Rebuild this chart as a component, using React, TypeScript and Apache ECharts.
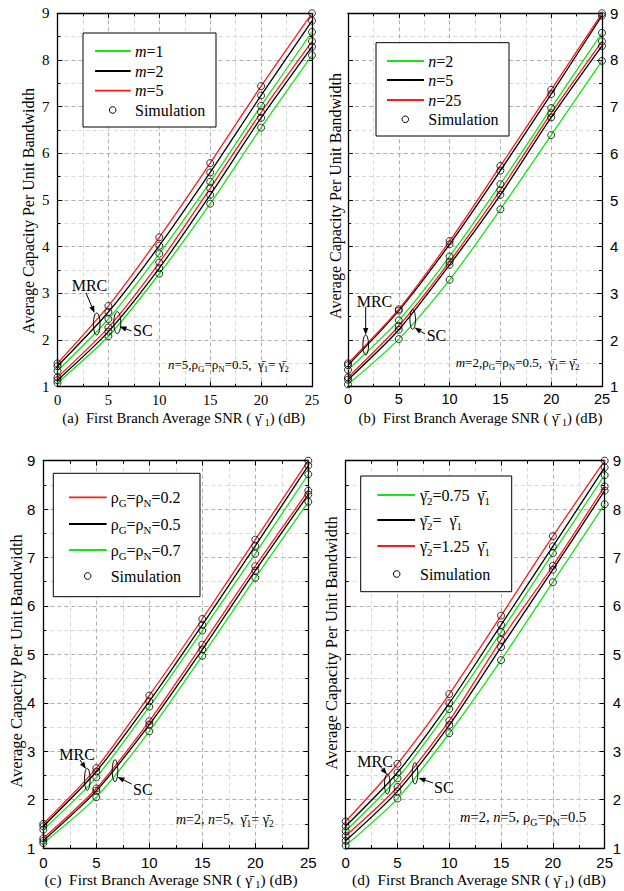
import React, { useEffect, useRef } from "react";
import * as echarts from "echarts";

const SERIF = "Liberation Serif";
const SANS = "Liberation Sans";
const GREEN = "#14e614";
const BLACK = "#000000";
const RED = "#ff1a1a";

// SNR of the first branch (dB) where values are read / simulated
const snrDb = [0, 5, 10, 15, 20, 25];

// (a) m = 1, 2, 5
const aMrcM1 = [1.34, 2.45, 3.85, 5.39, 7.02, 8.6];
const aMrcM2 = [1.44, 2.6, 4.02, 5.59, 7.24, 8.84];
const aMrcM5 = [1.5, 2.73, 4.2, 5.79, 7.44, 9.0];
const aScM1 = [1.08, 2.08, 3.42, 4.92, 6.55, 8.1];
const aScM2 = [1.14, 2.18, 3.54, 5.11, 6.76, 8.28];
const aScM5 = [1.2, 2.27, 3.66, 5.25, 6.88, 8.4];

// (b) n = 2, 5, 25
const bMrcN2 = [1.36, 2.42, 3.79, 5.34, 6.97, 8.58];
const bMrcN5 = [1.46, 2.63, 4.05, 5.63, 7.27, 8.95];
const bMrcN25 = [1.5, 2.66, 4.12, 5.73, 7.36, 9.0];
const bScN2 = [1.05, 2.02, 3.29, 4.8, 6.39, 7.98];
const bScN5 = [1.15, 2.22, 3.61, 5.11, 6.77, 8.3];
const bScN25 = [1.2, 2.3, 3.68, 5.21, 6.86, 8.4];

// (c) rho = 0.2, 0.5, 0.7
const cMrc02 = [1.5, 2.65, 4.15, 5.73, 7.37, 9.0];
const cMrc05 = [1.45, 2.58, 4.03, 5.61, 7.24, 8.9];
const cMrc07 = [1.38, 2.46, 3.92, 5.49, 7.08, 8.72];
const cSc02 = [1.2, 2.23, 3.62, 5.2, 6.82, 8.38];
const cSc05 = [1.15, 2.18, 3.55, 5.1, 6.73, 8.3];
const cSc07 = [1.1, 2.05, 3.41, 4.97, 6.58, 8.15];

// (d) gamma2 = 0.75, 1, 1.25 gamma1
const dMrc075 = [1.35, 2.44, 3.87, 5.46, 7.09, 8.7];
const dMrc100 = [1.45, 2.56, 3.99, 5.61, 7.23, 8.86];
const dMrc125 = [1.55, 2.74, 4.18, 5.8, 7.44, 9.0];
const dSc075 = [1.05, 2.02, 3.37, 4.88, 6.49, 8.1];
const dSc100 = [1.15, 2.17, 3.54, 5.15, 6.75, 8.38];
const dSc125 = [1.25, 2.26, 3.63, 5.3, 6.83, 8.47];

// Texts: {n|normal} {i|italic} {s|subscript}
const legendA = ["{i|m}{n|=1}", "{i|m}{n|=2}", "{i|m}{n|=5}", "{n|Simulation}"];
const legendB = ["{i|n}{n|=2}", "{i|n}{n|=5}", "{i|n}{n|=25}", "{n|Simulation}"];
const legendC = [
  "{n|ρ}{s|G}{n|=ρ}{s|N}{n|=0.2}",
  "{n|ρ}{s|G}{n|=ρ}{s|N}{n|=0.5}",
  "{n|ρ}{s|G}{n|=ρ}{s|N}{n|=0.7}",
  "{n|Simulation}",
];
const legendD = [
  "{n|γ\u0304}{s|2}{n|=0.75  γ\u0304}{s|1}",
  "{n|γ\u0304}{s|2}{n|=  γ\u0304}{s|1}",
  "{n|γ\u0304}{s|2}{n|=1.25  γ\u0304}{s|1}",
  "{n|Simulation}",
];

const xTitleA = "{n|(a)  First Branch Average SNR ( γ\u0304}{s| 1}{n|) (dB)}";
const xTitleB = "{n|(b)  First Branch Average SNR ( γ\u0304}{s| 1}{n|) (dB)}";
const xTitleC = "{n|(c)  First Branch Average SNR ( γ\u0304}{s| 1}{n|) (dB)}";
const xTitleD = "{n|(d)  First Branch Average SNR ( γ\u0304}{s| 1}{n|) (dB)}";
const yTitle = "Average Capacity Per Unit Bandwidth";

const paramA = "{i|n}{n|=5,ρ}{s|G}{n|=ρ}{s|N}{n|=0.5,  γ\u0304}{s|1}{n|= γ\u0304}{s|2}";
const paramB = "{i|m}{n|=2,ρ}{s|G}{n|=ρ}{s|N}{n|=0.5,  γ\u0304}{s|1}{n|= γ\u0304}{s|2}";
const paramC = "{i|m}{n|=2, }{i|n}{n|=5,  γ\u0304}{s|1}{n|= γ\u0304}{s|2}";
const paramD = "{i|m}{n|=2, }{i|n}{n|=5, ρ}{s|G}{n|=ρ}{s|N}{n|=0.5}";

let measureCtx: CanvasRenderingContext2D | null = null;
function measure(text: string, fs: number, italic: boolean) {
  if (!measureCtx) measureCtx = document.createElement("canvas").getContext("2d");
  if (!measureCtx) return text.length * fs * 0.5;
  measureCtx.font = `${italic ? "italic " : ""}${fs}px "${SERIF}"`;
  return measureCtx.measureText(text).width;
}

// Lays out a mixed text (normal / italic / subscript) as separate text elements
function rt(x: number, y: number, str: string, fs: number, align = "left", subDrop = 0.36) {
  const parts: { k: string; t: string }[] = [];
  const re = /\{(\w)\|([^}]*)\}/g;
  let m: RegExpExecArray | null;
  while ((m = re.exec(str)) !== null) parts.push({ k: m[1], t: m[2] });
  const sizes = parts.map((p) => (p.k === "s" ? fs * 0.68 : fs));
  const widths = parts.map((p, i) => measure(p.t, sizes[i], p.k === "i"));
  const total = widths.reduce((a, b) => a + b, 0);
  let cx = align === "center" ? x - total / 2 : x;
  return parts.map((p, i) => {
    const el = {
      type: "text",
      x: cx,
      y: p.k === "s" ? y + subDrop * fs : y,
      z: 200,
      style: {
        text: p.t,
        fontSize: sizes[i],
        fontFamily: SERIF,
        fontStyle: p.k === "i" ? "italic" : "normal",
        fill: "#000",
        align: "left",
        textAlign: "left",
        verticalAlign: "middle",
        textVerticalAlign: "middle",
      },
    };
    cx += widths[i];
    return el;
  });
}

function vtitle(x: number, y: number, fs: number) {
  return {
    type: "text",
    x,
    y,
    rotation: Math.PI / 2,
    z: 200,
    style: {
      text: yTitle,
      fontSize: fs,
      fontFamily: SERIF,
      fill: "#000",
      align: "center",
      textAlign: "center",
      verticalAlign: "middle",
      textVerticalAlign: "middle",
    },
  };
}

function arrow(x1: number, y1: number, x2: number, y2: number) {
  const a = Math.atan2(y2 - y1, x2 - x1);
  const L = 7;
  const W = 2.6;
  const c = Math.cos(a);
  const s = Math.sin(a);
  const bx = x2 - L * c;
  const by = y2 - L * s;
  const px = -s * W;
  const py = c * W;
  return [
    { type: "line", z: 200, shape: { x1, y1, x2: bx, y2: by }, style: { stroke: "#000", lineWidth: 1 } },
    {
      type: "polygon",
      z: 200,
      shape: { points: [[x2, y2], [bx + px, by + py], [bx - px, by - py]] },
      style: { fill: "#000" },
    },
  ];
}

function ellipse(cx: number, cy: number, rx: number, ry: number) {
  return {
    type: "ellipse",
    z: 200,
    shape: { cx, cy, rx, ry },
    style: { fill: "none", stroke: "#000", lineWidth: 1 },
  };
}

function legendBox(box: any, labels: string[], colors: string[], fs: number) {
  const els: any[] = [
    {
      type: "rect",
      z: 150,
      shape: { x: box.x, y: box.y, width: box.w, height: box.h },
      style: { fill: "#fff", stroke: "#000", lineWidth: 1 },
    },
  ];
  labels.forEach((lab, k) => {
    const y = box.rows[k];
    if (k < 3) {
      els.push({
        type: "line",
        z: 200,
        shape: { x1: box.l1, y1: y, x2: box.l2, y2: y },
        style: { stroke: colors[k], lineWidth: 1.8 },
      });
    } else {
      els.push({
        type: "circle",
        z: 200,
        shape: { cx: box.cx, cy: y, r: 3.3 },
        style: { fill: "none", stroke: "#000", lineWidth: 1 },
      });
    }
    els.push(...rt(box.tx, y, lab, fs));
  });
  return els;
}

const grids = [
  { left: 57.5, top: 13.3, width: 254.5, height: 373.4 },
  { left: 348, top: 13.3, width: 254, height: 373.4 },
  { left: 43.3, top: 460.7, width: 265, height: 387.3 },
  { left: 345.7, top: 460.7, width: 262.6, height: 387.3 },
];

const panelCurves = [
  { mrc: [aMrcM1, aMrcM2, aMrcM5], sc: [aScM1, aScM2, aScM5], colors: [GREEN, BLACK, RED] },
  { mrc: [bMrcN2, bMrcN5, bMrcN25], sc: [bScN2, bScN5, bScN25], colors: [GREEN, BLACK, RED] },
  { mrc: [cMrc02, cMrc05, cMrc07], sc: [cSc02, cSc05, cSc07], colors: [RED, BLACK, GREEN] },
  { mrc: [dMrc075, dMrc100, dMrc125], sc: [dSc075, dSc100, dSc125], colors: [GREEN, BLACK, RED] },
];

const labelFonts = [
  { family: SERIF, xfs: 14.5, yfs: 15, ySide: "left", xm: 6 },
  { family: SANS, xfs: 14.5, yfs: 15, ySide: "right", xm: 5 },
  { family: SANS, xfs: 15, yfs: 15, ySide: "left", xm: 7 },
  { family: SANS, xfs: 15, yfs: 15, ySide: "right", xm: 7 },
];

function axisCommon() {
  return {
    axisLine: { show: true, onZero: false, lineStyle: { color: "#000", width: 1.3 } },
    axisTick: { show: true, inside: true, length: 5, lineStyle: { color: "#000", width: 1 } },
    minorTick: { show: true, splitNumber: 2, length: 3, lineStyle: { color: "#000", width: 1 } },
  };
}

function buildOption() {
  const xAxis: any[] = [];
  const yAxis: any[] = [];
  const series: any[] = [];
  grids.forEach((_, i) => {
    const lf = labelFonts[i];
    xAxis.push({
      type: "value",
      gridIndex: i,
      position: "bottom",
      min: 0,
      max: 25,
      interval: 5,
      ...axisCommon(),
      axisLabel: { show: true, margin: lf.xm, fontSize: lf.xfs, fontFamily: lf.family, color: "#000" },
      splitLine: { show: true, lineStyle: { color: "#9a9a9a", type: [4, 3], width: 0.8 } },
      minorSplitLine: { show: true, lineStyle: { color: "#cfcfcf", type: [4, 3], width: 0.8 } },
    });
    xAxis.push({
      type: "value",
      gridIndex: i,
      position: "top",
      min: 0,
      max: 25,
      interval: 5,
      ...axisCommon(),
      axisLabel: { show: false },
      splitLine: { show: false },
      minorSplitLine: { show: false },
    });
    yAxis.push({
      type: "value",
      gridIndex: i,
      position: "left",
      min: 1,
      max: 9,
      interval: 1,
      ...axisCommon(),
      axisLabel: {
        show: lf.ySide === "left",
        margin: 8,
        fontSize: lf.yfs,
        fontFamily: lf.family,
        color: "#000",
      },
      splitLine: { show: true, lineStyle: { color: "#9a9a9a", type: [4, 3], width: 0.8 } },
      minorSplitLine: { show: true, lineStyle: { color: "#cfcfcf", type: [4, 3], width: 0.8 } },
    });
    yAxis.push({
      type: "value",
      gridIndex: i,
      position: "right",
      min: 1,
      max: 9,
      interval: 1,
      ...axisCommon(),
      axisLabel: {
        show: lf.ySide === "right",
        margin: 8,
        fontSize: lf.yfs,
        fontFamily: lf.family,
        color: "#000",
      },
      splitLine: { show: false },
      minorSplitLine: { show: false },
    });

    const pc = panelCurves[i];
    const sims: number[][] = [];
    [pc.mrc, pc.sc].forEach((group) => {
      group.forEach((vals, k) => {
        const pts = snrDb.map((x, j) => [x, vals[j]]);
        pts.forEach((p) => sims.push(p));
        series.push({
          type: "line",
          xAxisIndex: 2 * i,
          yAxisIndex: 2 * i,
          data: pts,
          showSymbol: false,
          symbol: "none",
          smooth: 0.25,
          lineStyle: { color: pc.colors[k], width: 1.3 },
          z: 3,
          silent: true,
        });
      });
    });
    series.push({
      type: "scatter",
      xAxisIndex: 2 * i,
      yAxisIndex: 2 * i,
      data: sims,
      symbol: "circle",
      symbolSize: 7,
      clip: false,
      itemStyle: { color: "rgba(0,0,0,0)", borderColor: "#000", borderWidth: 1 },
      z: 5,
      silent: true,
    });
  });

  const g: any[] = [];
  // Legends
  g.push(
    ...legendBox(
      { x: 83, y: 33, w: 133, h: 94, rows: [51, 71, 90.7, 110], l1: 95, l2: 130.7, tx: 135, cx: 112.7 },
      legendA,
      [GREEN, BLACK, RED],
      16
    )
  );
  g.push(
    ...legendBox(
      { x: 376, y: 42.7, w: 133, h: 93.3, rows: [61, 80, 100, 119.3], l1: 387, l2: 424, tx: 428.3, cx: 405.3 },
      legendB,
      [GREEN, BLACK, RED],
      16
    )
  );
  g.push(
    ...legendBox(
      { x: 53.3, y: 473.3, w: 146.7, h: 123.4, rows: [497.3, 524, 550, 576], l1: 69, l2: 106.7, tx: 110.7, cx: 87.7 },
      legendC,
      [RED, BLACK, GREEN],
      16
    )
  );
  g.push(
    ...legendBox(
      { x: 360.7, y: 476, w: 151, h: 115.7, rows: [495, 520, 546, 574], l1: 377.3, l2: 415, tx: 420, cx: 396.7 },
      legendD,
      [GREEN, BLACK, RED],
      16
    )
  );

  // Axis titles
  g.push(...rt(183.7, 417.5, xTitleA, 14.7, "center"));
  g.push(...rt(480.5, 417.5, xTitleB, 14.7, "center"));
  g.push(...rt(171, 879.5, xTitleC, 15.3, "center", 0.3));
  g.push(...rt(479, 879.5, xTitleD, 15.3, "center", 0.3));
  g.push(vtitle(28.5, 211, 16));
  g.push(vtitle(335, 196, 16));
  g.push(vtitle(16.7, 661, 16.5));
  g.push(vtitle(331.7, 643, 16.5));

  // Parameter notes
  g.push(...rt(168, 364, paramA, 13));
  g.push(...rt(455.7, 362, paramB, 13));
  g.push(...rt(176, 819, paramC, 14));
  g.push(...rt(460, 817, paramD, 14.5));

  // MRC / SC annotations
  g.push(...rt(71.7, 285, "{n|MRC}", 16));
  g.push(...arrow(86, 293, 94.5, 313));
  g.push(ellipse(96.7, 324, 3.3, 11));
  g.push(...rt(133, 330, "{n|SC}", 16));
  g.push(...arrow(131.5, 331, 119.5, 326.5));
  g.push(ellipse(117.3, 322.7, 3.5, 11));

  g.push(...rt(356.7, 301.7, "{n|MRC}", 16));
  g.push(...arrow(365.7, 307, 365.7, 335));
  g.push(ellipse(365.7, 345, 2.8, 10));
  g.push(...rt(426.7, 335, "{n|SC}", 16));
  g.push(...arrow(425, 334, 414.5, 327.5));
  g.push(ellipse(412.7, 319.3, 2.8, 10));

  g.push(...rt(59.3, 754, "{n|MRC}", 16));
  g.push(...arrow(80, 760, 86, 769));
  g.push(ellipse(87.3, 779.3, 2.8, 11));
  g.push(...rt(133, 789.3, "{n|SC}", 16));
  g.push(...arrow(131.7, 784, 117.5, 777));
  g.push(ellipse(115, 770.7, 2.8, 11));

  g.push(...rt(357.3, 761.7, "{n|MRC}", 16));
  g.push(...arrow(380, 766, 387, 774.5));
  g.push(ellipse(387.3, 784, 2.8, 10));
  g.push(...rt(434, 787.3, "{n|SC}", 16));
  g.push(...arrow(433, 783, 418.5, 778));
  g.push(ellipse(415, 773.3, 2.8, 10.7));

  return {
    animation: false,
    backgroundColor: "#fff",
    grid: grids.map((gr) => ({ ...gr, containLabel: false, show: false })),
    xAxis,
    yAxis,
    series,
    graphic: g,
  };
}

export default function App() {
  const ref = useRef<HTMLDivElement>(null);
  useEffect(() => {
    if (!ref.current) return;
    const chart = echarts.init(ref.current, undefined, { renderer: "svg" });
    chart.setOption(buildOption() as any);
    return () => chart.dispose();
  }, []);
  return (
    <div
      ref={ref}
      style={{ position: "fixed", left: 0, top: 0, width: 624, height: 891, background: "#fff" }}
    />
  );
}
